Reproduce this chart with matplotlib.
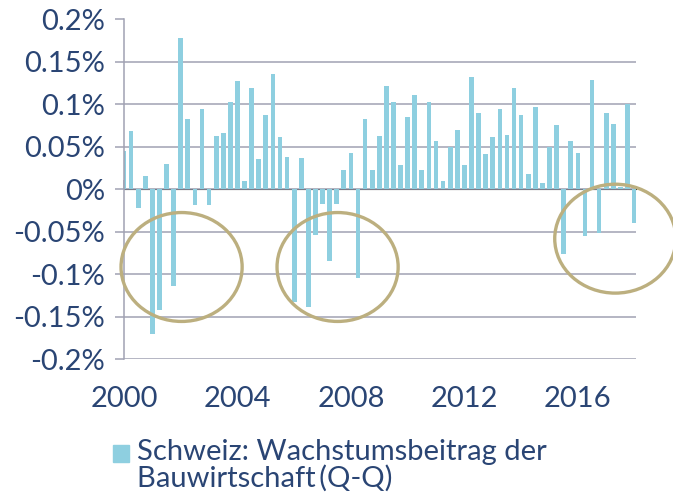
import matplotlib
matplotlib.use('Agg')
import matplotlib.pyplot as plt
from matplotlib.patches import Ellipse, Rectangle

# quarterly values, 2000 Q1 .. 2018 Q1 (in %)
start_year = 2000
values = [
    0.045, 0.068, -0.022, 0.016,
    -0.170, -0.142, 0.029, -0.114,
    0.178, 0.083, -0.019, 0.094,
    -0.019, 0.062, 0.066, 0.103,
    0.127, 0.009, 0.119, 0.035,
    0.087, 0.135, 0.061, 0.038,
    -0.133, 0.037, -0.139, -0.054,
    -0.018, -0.085, -0.017, 0.022,
    0.042, -0.105, 0.083, 0.022,
    0.062, 0.121, 0.103, 0.028,
    0.085, 0.111, 0.022, 0.103,
    0.057, 0.009, 0.050, 0.070,
    0.028, 0.132, 0.090, 0.041,
    0.061, 0.094, 0.064, 0.119,
    0.087, 0.018, 0.096, 0.007,
    0.050, 0.075, -0.076, 0.057,
    0.042, -0.055, 0.128, -0.051,
    0.090, 0.077, 0.002, 0.100,
    -0.040,
]
x_ticks = [2000, 2004, 2008, 2012, 2016]
x_labels = ['2000', '2004', '2008', '2012', '2016']
y_ticks = [-0.2, -0.15, -0.1, -0.05, 0, 0.05, 0.1, 0.15, 0.2]
y_labels = ['-0.2%', '-0.15%', '-0.1%', '-0.05%', '0%',
            '0.05%', '0.1%', '0.15%', '0.2%']
legend_label = 'Schweiz: Wachstumsbeitrag der\nBauwirtschaft\u2009(Q-Q)'

bar_color = '#8ecfe0'
grid_color = '#a0a2b3'
text_color = '#2a4574'
circle_color = '#bcaf7f'

plt.rcParams['font.family'] = ['Lato', 'DejaVu Sans']

W, H = 673, 504
fig = plt.figure(figsize=(W / 100, H / 100), dpi=100)
ax = fig.add_axes([124 / W, 1 - 359.3 / H, 512 / W, 340.3 / H])

# bars, one per quarter
xs = [start_year + i / 4 for i in range(len(values))]
ax.bar(xs, values, width=0.165, color=bar_color, zorder=2)

ax.set_xlim(2000, 2018.05)
ax.set_ylim(-0.2, 0.2)

# horizontal grid lines (none at the top)
for t in y_ticks[:-1]:
    ax.axhline(t, color=grid_color, lw=1.1, zorder=1)

for side in ['top', 'right', 'bottom']:
    ax.spines[side].set_visible(False)
ax.spines['left'].set_color(grid_color)
ax.spines['left'].set_linewidth(1.1)

ax.set_yticks(y_ticks)
ax.set_yticklabels(y_labels)
ax.tick_params(axis='y', length=6.5, width=1.1, color=grid_color,
               labelsize=21, labelcolor=text_color, pad=7)

ax.set_xticks(x_ticks)
ax.set_xticklabels(x_labels)
ax.tick_params(axis='x', length=0, labelsize=21, labelcolor=text_color, pad=19)

# tick marks sit on the zero line
zero_axis = ax.secondary_xaxis(0.5)
zero_axis.set_xticks(x_ticks)
zero_axis.set_xticklabels([])
zero_axis.tick_params(length=6.5, width=1.1, color=grid_color)
zero_axis.spines['bottom'].set_color(grid_color)
zero_axis.spines['bottom'].set_linewidth(1.1)

# highlight circles
for cx, cy in [(2002.03, -0.0915), (2007.53, -0.0915), (2017.32, -0.0582)]:
    e = Ellipse((cx, cy), 4.27, 0.128, fill=False, edgecolor=circle_color,
                lw=2.4, clip_on=False, zorder=5)
    ax.add_patch(e)

# legend drawn by hand so the square lines up with the first line
fig.patches.append(Rectangle((113 / W, 1 - 462 / H), 16 / W, 17 / H,
                             transform=fig.transFigure, color=bar_color))
fig.text(137 / W, 1 - 439 / H, legend_label, fontsize=21, color=text_color,
         va='top', ha='left', linespacing=1.0)

fig.savefig('out.png', dpi=100)
